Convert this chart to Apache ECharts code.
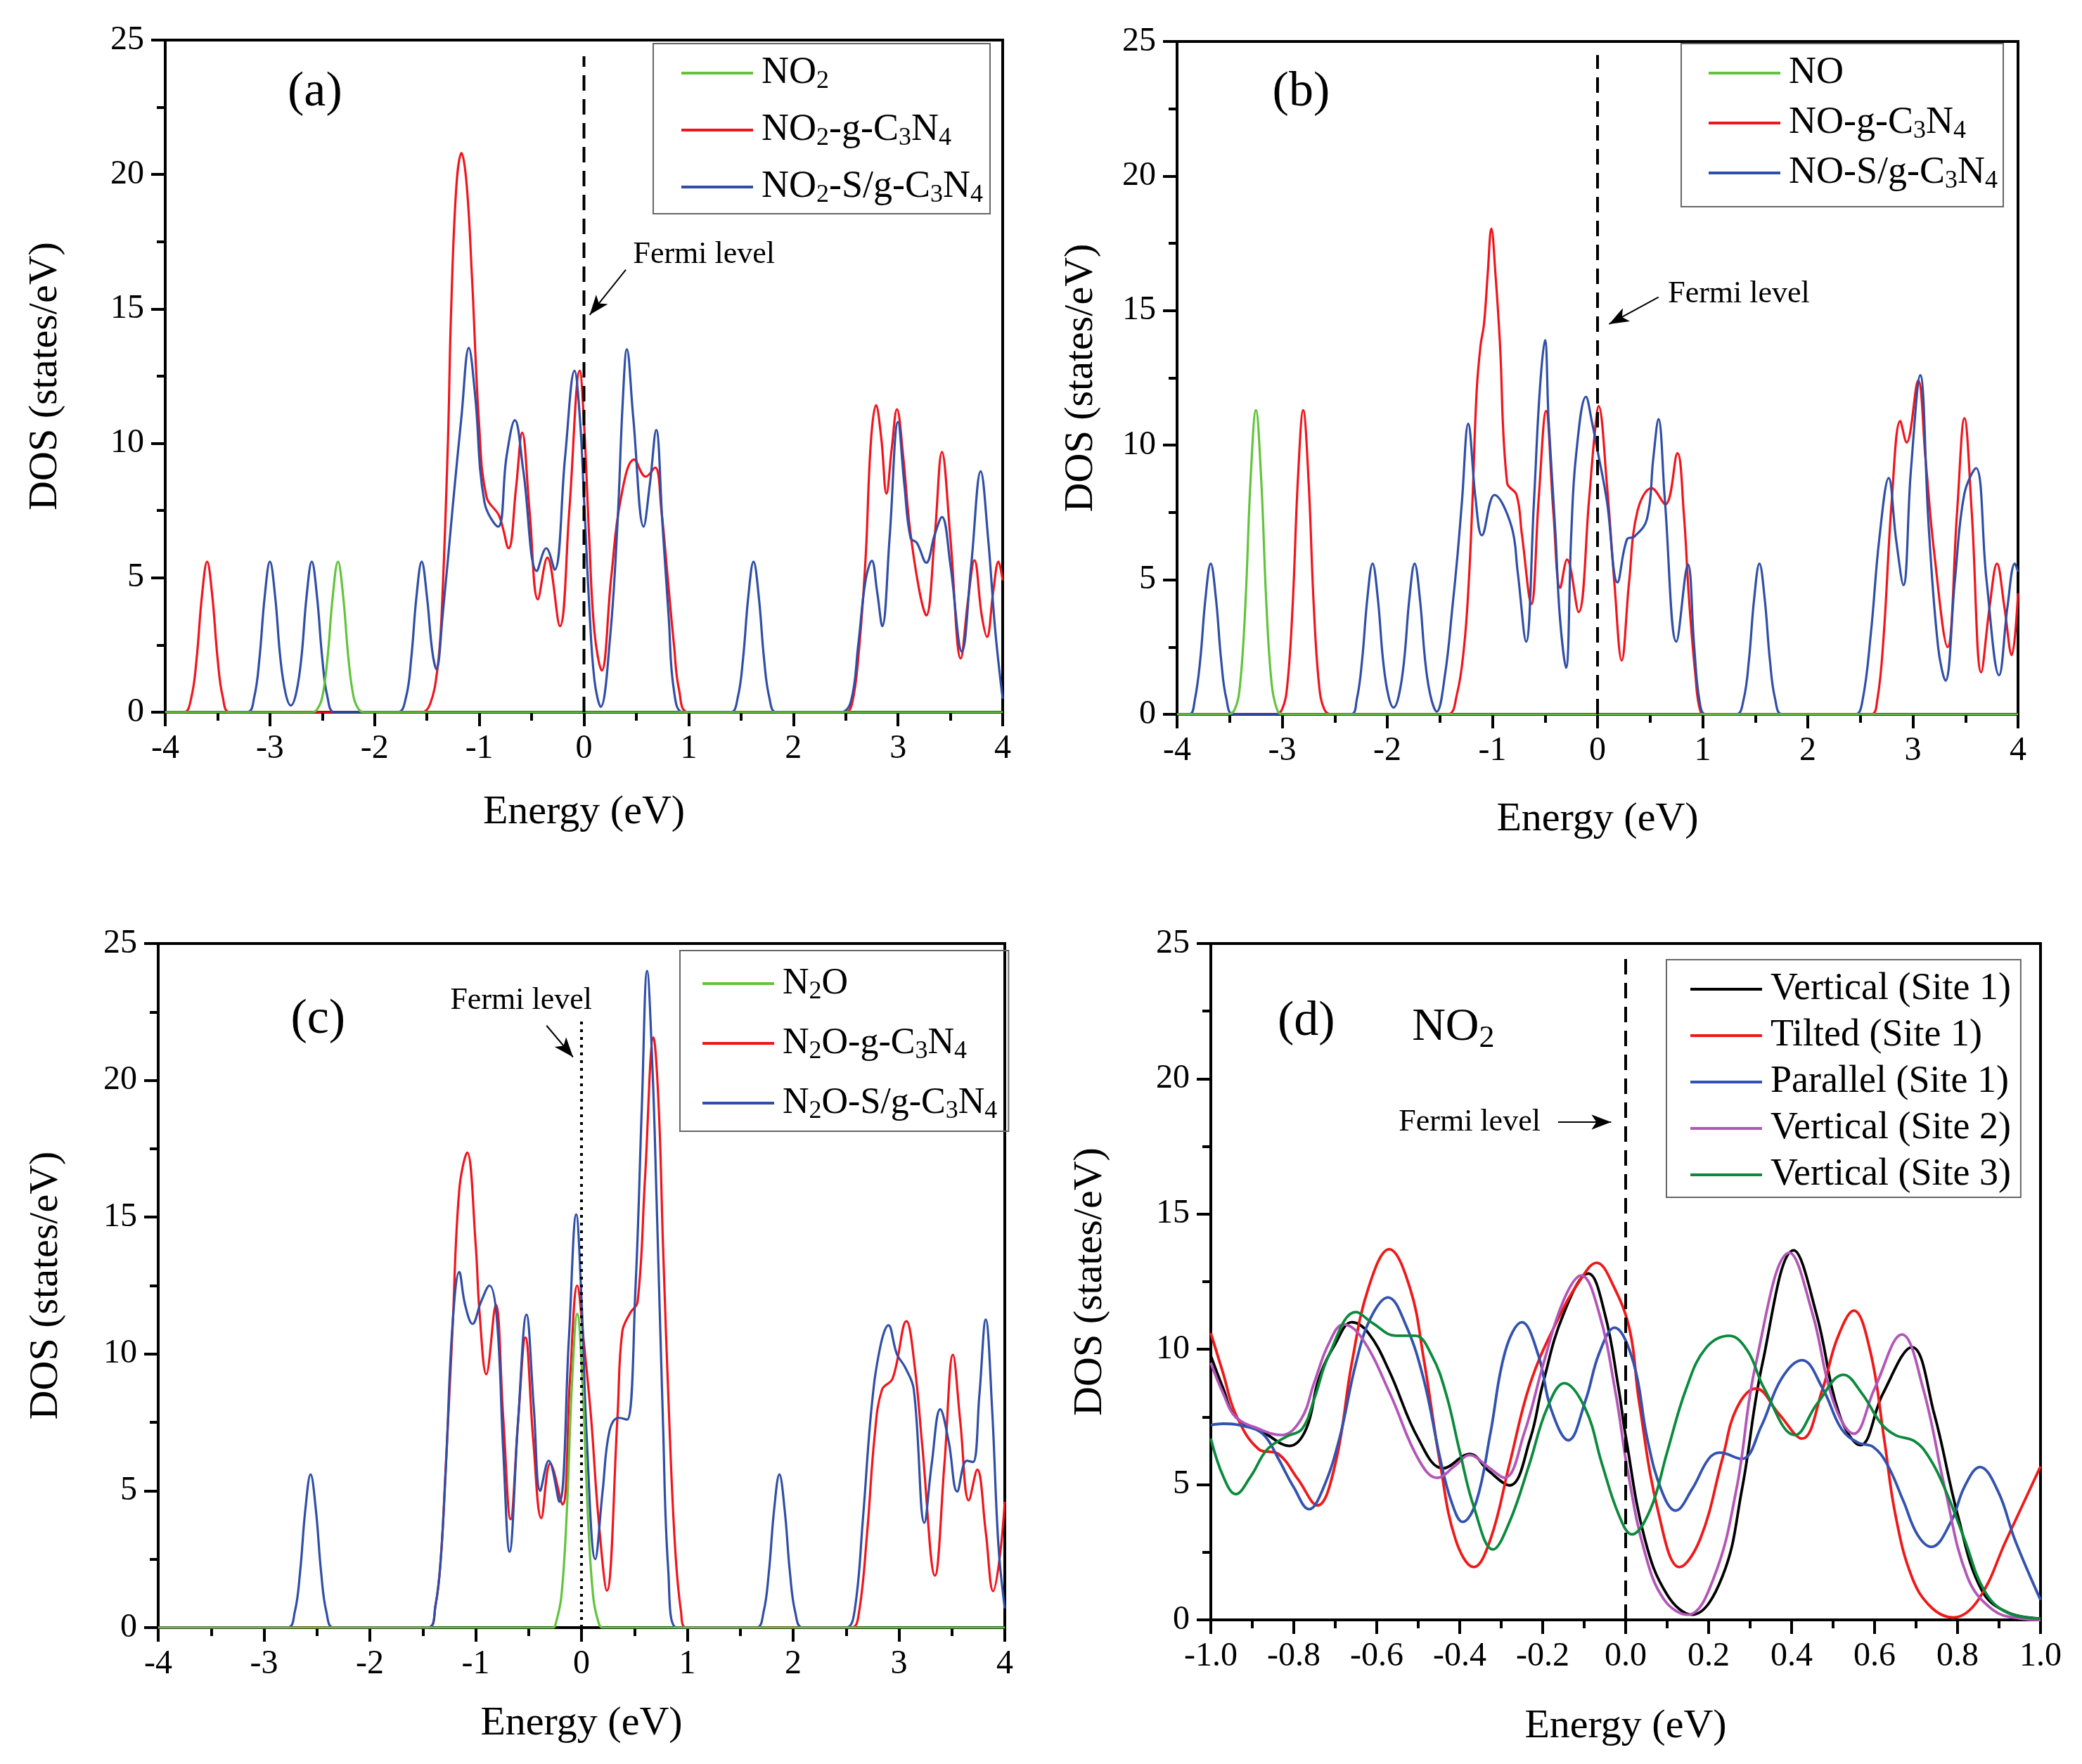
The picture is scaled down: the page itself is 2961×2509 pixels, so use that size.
<!DOCTYPE html>
<html>
<head>
<meta charset="utf-8">
<script src="https://cdn.jsdelivr.net/npm/echarts@6/dist/echarts.min.js"></script>
<style>
html, body { margin: 0; padding: 0; background: #fff; }
#chart { width: 2961px; height: 2509px; }
</style>
</head>
<body>
<div id="chart"></div>
<script>
// ---- data: [energy (eV), DOS (states/eV)] ----

// (a) NO2
var aNO2 = [[-4,0],[-2.6,0],[-2.55,0.1],[-2.5,0.56],[-2.45,2.0],[-2.4,4.3],[-2.35,5.6],[-2.3,4.3],[-2.25,2.0],[-2.2,0.56],[-2.15,0.1],[-2.1,0],[4,0]];
var aNO2gCN = [[-4,0],[-3.82,0],[-3.75,0.56],[-3.7,2.0],[-3.65,4.3],[-3.6,5.6],[-3.55,4.3],[-3.5,2.0],[-3.45,0.56],[-3.38,0],
  [-1.55,0],[-1.47,0.3],[-1.4,1.6],[-1.36,3.6],[-1.3,10.0],[-1.27,14.8],[-1.22,19.5],[-1.17,20.8],[-1.12,19.6],[-1.07,16.2],[-1.0,10.6],[-0.93,8.0],[-0.81,7.3],[-0.72,6.1],[-0.65,8.3],[-0.59,10.4],[-0.52,7.5],[-0.44,4.2],[-0.35,5.75],[-0.23,3.2],[-0.14,7.5],[-0.04,12.7],[0.0,10.8],[0.05,6.5],[0.1,3.0],[0.17,1.55],[0.26,5.0],[0.35,7.9],[0.48,9.4],[0.59,8.76],[0.68,9.1],[0.74,7.5],[0.8,5.0],[0.86,2.5],[0.91,0.8],[1.0,0],
  [2.5,0],[2.56,0.3],[2.62,2.0],[2.69,5.7],[2.74,10.0],[2.79,11.42],[2.84,10.2],[2.89,8.13],[2.94,9.8],[2.99,11.27],[3.05,9.5],[3.11,6.96],[3.2,4.6],[3.27,3.6],[3.35,6.5],[3.42,9.68],[3.5,6.5],[3.6,2.0],[3.67,4.2],[3.73,5.65],[3.8,3.6],[3.85,2.8],[3.91,4.5],[3.96,5.6],[4.0,4.9]];
var aNO2SgCN = [[-4,0],[-3.22,0],[-3.15,0.56],[-3.1,2.0],[-3.05,4.3],[-3.0,5.6],[-2.95,4.3],[-2.9,2.0],[-2.85,0.7],[-2.8,0.25],[-2.75,0.7],[-2.7,2.0],[-2.65,4.3],[-2.6,5.6],[-2.55,4.3],[-2.5,2.0],[-2.45,0.56],[-2.38,0],
  [-1.78,0],[-1.7,0.56],[-1.65,2.0],[-1.6,4.3],[-1.55,5.6],[-1.5,4.3],[-1.45,2.3],[-1.41,1.6],[-1.35,3.6],[-1.25,7.8],[-1.17,11.0],[-1.1,13.55],[-1.04,11.8],[-0.95,7.8],[-0.82,6.9],[-0.74,9.5],[-0.66,10.86],[-0.58,9.0],[-0.45,5.25],[-0.36,6.1],[-0.28,5.3],[-0.18,9.5],[-0.09,12.7],[-0.04,11.0],[0.0,8.0],[0.05,4.0],[0.1,1.2],[0.16,0.2],[0.25,2.8],[0.32,7.0],[0.37,11.5],[0.41,13.5],[0.47,11.0],[0.57,6.9],[0.63,8.5],[0.69,10.5],[0.75,7.0],[0.81,3.5],[0.86,0.8],[0.95,0],
  [1.4,0],[1.47,0.56],[1.52,2.0],[1.57,4.3],[1.62,5.6],[1.67,4.3],[1.72,2.0],[1.77,0.56],[1.84,0],
  [2.45,0],[2.55,0.4],[2.62,2.5],[2.69,4.9],[2.75,5.63],[2.8,4.5],[2.85,3.2],[2.92,6.5],[3.0,10.8],[3.06,8.5],[3.12,6.48],[3.18,6.3],[3.27,5.56],[3.35,6.6],[3.42,7.26],[3.5,5.5],[3.61,2.25],[3.7,5.5],[3.79,8.96],[3.86,6.5],[3.93,3.0],[4.0,0.5]];

// (b) NO
var bNO = [[-4,0],[-3.52,0],[-3.45,0.19],[-3.4,1.13],[-3.35,4.07],[-3.3,8.76],[-3.25,11.3],[-3.2,8.76],[-3.15,4.07],[-3.1,1.13],[-3.05,0.19],[-3.0,0],[4,0]];
var bNOgCN = [[-4,0],[-3.07,0],[-3.0,0.19],[-2.95,1.13],[-2.9,4.07],[-2.85,8.76],[-2.8,11.3],[-2.75,8.76],[-2.7,4.07],[-2.65,1.13],[-2.6,0.19],[-2.53,0],
  [-1.43,0],[-1.34,0.7],[-1.27,2.5],[-1.225,4.9],[-1.19,7.9],[-1.15,12.0],[-1.113,13.7],[-1.08,14.5],[-1.046,16.3],[-1.01,18.05],[-0.97,16.3],[-0.93,13.9],[-0.86,8.6],[-0.77,8.15],[-0.72,6.7],[-0.63,4.1],[-0.56,8.0],[-0.49,11.27],[-0.42,7.5],[-0.355,4.7],[-0.29,5.75],[-0.18,3.8],[-0.08,8.0],[-0.03,10.3],[0.01,11.45],[0.09,8.5],[0.16,4.9],[0.23,2.0],[0.3,4.9],[0.38,7.55],[0.515,8.4],[0.645,7.8],[0.76,9.7],[0.82,7.5],[0.87,4.3],[0.93,1.5],[0.98,0.1],[1.05,0],
  [2.6,0],[2.66,0.5],[2.72,2.8],[2.8,8.0],[2.88,10.9],[2.94,10.1],[3.05,12.4],[3.12,9.5],[3.2,6.1],[3.33,2.5],[3.42,7.5],[3.49,11.0],[3.56,7.5],[3.65,1.56],[3.73,4.0],[3.8,5.6],[3.87,4.0],[3.94,2.2],[4.0,4.5]];
var bNOSgCN = [[-4,0],[-3.88,0],[-3.83,0.56],[-3.78,2.0],[-3.73,4.3],[-3.68,5.6],[-3.63,4.3],[-3.58,2.0],[-3.53,0.56],[-3.46,0],
  [-2.35,0],[-2.29,0.56],[-2.24,2.0],[-2.19,4.3],[-2.14,5.6],[-2.09,4.3],[-2.04,2.0],[-1.99,0.7],[-1.94,0.25],[-1.89,0.7],[-1.84,2.0],[-1.79,4.3],[-1.74,5.6],[-1.69,4.3],[-1.64,2.0],[-1.59,0.7],[-1.53,0.1],
  [-1.45,1.5],[-1.38,4.0],[-1.33,6.0],[-1.29,7.9],[-1.23,10.8],[-1.16,8.0],[-1.1,6.65],[-0.98,8.15],[-0.82,7.0],[-0.76,5.3],[-0.68,2.7],[-0.605,7.9],[-0.55,12.0],[-0.5,13.9],[-0.465,10.9],[-0.4,6.7],[-0.36,3.7],[-0.3,1.73],[-0.25,6.7],[-0.205,9.6],[-0.11,11.8],[-0.05,10.8],[0.0,9.8],[0.09,7.9],[0.19,4.9],[0.28,6.5],[0.35,6.6],[0.47,7.25],[0.53,9.5],[0.58,10.97],[0.64,8.0],[0.75,2.7],[0.86,5.57],[0.92,2.5],[0.97,0.5],[1.03,0],
  [1.32,0],[1.39,0.56],[1.44,2.0],[1.49,4.3],[1.54,5.6],[1.59,4.3],[1.64,2.0],[1.69,0.56],[1.76,0],
  [2.45,0],[2.52,0.5],[2.6,3.0],[2.68,6.5],[2.77,8.78],[2.84,6.5],[2.91,4.8],[2.98,9.0],[3.07,12.6],[3.15,7.0],[3.24,2.5],[3.31,1.25],[3.4,5.0],[3.49,8.2],[3.6,9.15],[3.7,5.0],[3.82,1.45],[3.9,4.0],[3.97,5.6],[4.0,5.3]];

// (c) N2O
var cN2O = [[-4,0],[-0.27,0],[-0.24,0.2],[-0.19,1.15],[-0.14,4.13],[-0.09,8.9],[-0.04,11.47],[0.01,8.9],[0.06,4.13],[0.11,1.15],[0.16,0.2],[0.2,0],[4,0]];
var cN2OgCN = [[-4,0],[-1.45,0],[-1.38,0.8],[-1.33,2.5],[-1.29,5.3],[-1.22,10.8],[-1.155,16.0],[-1.08,17.36],[-1.0,14.0],[-0.965,11.6],[-0.9,9.26],[-0.81,11.8],[-0.74,7.7],[-0.67,3.96],[-0.6,7.5],[-0.53,10.6],[-0.457,6.9],[-0.38,4.0],[-0.295,6.0],[-0.18,4.5],[-0.11,9.0],[-0.04,12.5],[0.02,10.5],[0.09,7.7],[0.16,4.0],[0.24,1.35],[0.34,7.7],[0.385,10.8],[0.46,11.5],[0.53,11.9],[0.6,16.4],[0.68,21.57],[0.73,19.0],[0.77,14.0],[0.83,7.5],[0.885,2.9],[0.94,0.6],[0.99,0],
  [2.55,0],[2.62,0.5],[2.7,3.5],[2.77,7.0],[2.84,8.7],[2.94,9.1],[3.07,11.2],[3.15,9.5],[3.22,6.65],[3.34,1.9],[3.43,6.0],[3.51,9.97],[3.58,7.5],[3.66,4.65],[3.74,5.77],[3.82,3.5],[3.89,1.33],[3.95,2.5],[4.0,4.6]];
var cN2OSgCN = [[-4,0],[-2.78,0],[-2.71,0.56],[-2.66,2.0],[-2.61,4.3],[-2.56,5.6],[-2.51,4.3],[-2.46,2.0],[-2.41,0.56],[-2.34,0],
  [-1.45,0],[-1.38,0.8],[-1.33,2.5],[-1.28,6.0],[-1.22,11.0],[-1.155,13.0],[-1.1,11.8],[-1.03,11.1],[-0.95,11.9],[-0.87,12.5],[-0.8,11.3],[-0.74,6.5],[-0.68,2.77],[-0.6,7.5],[-0.52,11.44],[-0.45,8.0],[-0.39,5.0],[-0.31,6.1],[-0.21,4.6],[-0.12,10.5],[-0.05,15.1],[0.0,12.0],[0.05,6.9],[0.13,2.5],[0.2,5.0],[0.265,7.2],[0.35,7.67],[0.43,7.6],[0.51,12.4],[0.57,19.0],[0.62,24.0],[0.67,20.5],[0.71,15.6],[0.77,7.5],[0.82,2.1],[0.9,0],
  [1.65,0],[1.72,0.56],[1.77,2.0],[1.82,4.3],[1.87,5.6],[1.92,4.3],[1.97,2.0],[2.02,0.56],[2.09,0],
  [2.5,0],[2.58,0.6],[2.66,4.0],[2.74,8.0],[2.82,10.2],[2.9,11.05],[2.98,10.0],[3.06,9.5],[3.14,8.7],[3.24,3.83],[3.31,6.0],[3.39,7.98],[3.47,6.8],[3.55,4.97],[3.64,6.1],[3.7,6.05],[3.76,8.5],[3.82,11.26],[3.88,8.0],[3.94,3.0],[4.0,0.7]];

// (d) NO2 on different sites
var dVert1 = [[-1.0,9.76],[-0.97,8.55],[-0.94,7.5],[-0.87,6.9],[-0.81,6.43],[-0.77,7.06],[-0.74,8.9],[-0.7,10.2],[-0.66,11.0],[-0.62,10.6],[-0.57,9.2],[-0.5,6.7],[-0.44,5.6],[-0.376,6.13],[-0.33,5.5],[-0.28,4.97],[-0.23,6.7],[-0.2,8.7],[-0.15,11.3],[-0.09,12.8],[-0.05,11.3],[-0.017,8.55],[0.0,6.8],[0.046,3.0],[0.1,0.93],[0.16,0.19],[0.233,1.6],[0.28,4.8],[0.33,9.5],[0.405,13.66],[0.46,11.3],[0.515,7.6],[0.566,6.46],[0.62,8.36],[0.69,10.08],[0.744,7.6],[0.8,3.9],[0.858,1.1],[0.92,0.28],[1.0,0.05]];
var dTilt1 = [[-1.0,10.6],[-0.97,9.1],[-0.94,7.6],[-0.884,6.3],[-0.837,6.13],[-0.79,5.2],[-0.743,4.23],[-0.7,5.76],[-0.66,9.5],[-0.62,12.27],[-0.57,13.7],[-0.52,12.27],[-0.487,9.67],[-0.447,5.76],[-0.41,2.97],[-0.366,1.95],[-0.326,2.97],[-0.28,5.76],[-0.23,8.74],[-0.165,11.06],[-0.11,12.55],[-0.07,13.2],[-0.03,12.36],[0.01,10.7],[0.032,8.1],[0.08,3.9],[0.13,1.95],[0.18,3.0],[0.234,6.0],[0.267,7.8],[0.314,8.55],[0.37,7.6],[0.425,6.7],[0.475,8.55],[0.51,10.4],[0.55,11.43],[0.59,9.9],[0.623,6.7],[0.65,3.9],[0.69,1.58],[0.737,0.46],[0.79,0.09],[0.85,0.74],[0.918,2.97],[1.0,5.67]];
var dPar1 = [[-1.0,7.2],[-0.97,7.25],[-0.904,7.1],[-0.87,6.8],[-0.837,5.95],[-0.8,4.9],[-0.763,4.09],[-0.73,4.83],[-0.69,6.7],[-0.65,9.5],[-0.615,11.15],[-0.573,11.92],[-0.53,10.9],[-0.487,8.9],[-0.447,5.95],[-0.42,4.37],[-0.393,3.62],[-0.36,4.37],[-0.326,6.9],[-0.29,9.94],[-0.25,11.0],[-0.21,9.76],[-0.18,7.8],[-0.138,6.64],[-0.097,8.1],[-0.064,9.85],[-0.027,10.8],[0.019,9.5],[0.052,6.7],[0.086,4.8],[0.12,4.04],[0.16,4.83],[0.2,5.95],[0.227,6.18],[0.28,5.95],[0.327,7.16],[0.375,8.9],[0.425,9.6],[0.475,8.55],[0.52,7.06],[0.56,6.55],[0.596,6.4],[0.63,5.76],[0.67,4.37],[0.703,3.16],[0.737,2.7],[0.784,3.62],[0.817,4.93],[0.854,5.65],[0.898,4.74],[0.938,2.97],[1.0,0.74]];
var dVert2 = [[-1.0,9.5],[-0.97,8.36],[-0.94,7.5],[-0.884,7.06],[-0.83,6.83],[-0.783,7.4],[-0.75,8.8],[-0.716,10.2],[-0.68,10.92],[-0.635,10.4],[-0.568,8.36],[-0.5,5.95],[-0.454,5.25],[-0.413,5.67],[-0.376,6.09],[-0.333,5.67],[-0.292,5.25],[-0.245,6.88],[-0.198,9.48],[-0.15,11.8],[-0.107,12.73],[-0.064,11.34],[-0.024,8.36],[0.005,5.5],[0.046,2.5],[0.093,0.74],[0.15,0.19],[0.213,1.58],[0.267,4.83],[0.314,9.48],[0.395,13.57],[0.45,11.34],[0.5,8.1],[0.55,6.88],[0.6,8.55],[0.666,10.55],[0.717,8.55],[0.77,4.83],[0.824,1.58],[0.885,0.37],[0.95,0.05],[1.0,0.0]];
var dVert3 = [[-1.0,6.7],[-0.97,5.3],[-0.94,4.65],[-0.904,5.3],[-0.864,6.3],[-0.817,6.78],[-0.78,7.06],[-0.75,8.2],[-0.716,9.76],[-0.65,11.38],[-0.61,10.97],[-0.554,10.5],[-0.507,10.5],[-0.467,9.76],[-0.433,8.36],[-0.4,6.23],[-0.366,4.18],[-0.32,2.6],[-0.28,3.62],[-0.232,5.76],[-0.19,7.8],[-0.148,8.75],[-0.097,7.8],[-0.057,5.76],[-0.017,3.9],[0.015,3.16],[0.06,4.1],[0.1,6.2],[0.146,8.55],[0.193,10.04],[0.25,10.5],[0.294,9.94],[0.334,8.55],[0.408,6.83],[0.462,8.0],[0.525,9.06],[0.57,8.36],[0.616,7.25],[0.65,6.83],[0.697,6.6],[0.73,6.04],[0.77,4.83],[0.817,2.97],[0.864,1.1],[0.918,0.28],[1.0,0.05]];

// Fermi level markers: top of the vertical line, text pos, arrow start/end
var fermiTop = [24.4, 24.5, 22.3, 24.5];
var fermiText = [[0.47, 17.0], [0.67, 15.6], [-1.24, 22.9], [-0.547, 18.4]];
var fermiArrow = [
  [[0.40, 16.46], [0.055, 14.78]],
  [[0.58, 15.5], [0.11, 14.5]],
  [[-0.33, 22.0], [-0.08, 20.85]],
  [[-0.163, 18.4], [-0.035, 18.4]]
];
var panelLabels = ['(a)', '(b)', '(c)', '(d)'];
var panelLabelPos = [[-2.57, 23.05], [-2.82, 23.1], [-2.49, 22.2], [-0.77, 22.1]];

var FONT = '"Liberation Serif", "Times New Roman", serif';
var GREEN = '#62c43c', RED = '#f2141c', BLUE = '#2f4ea6';

var grids = [
  { left: 235, top: 57, width: 1191, height: 956 },
  { left: 1674, top: 59, width: 1196, height: 957 },
  { left: 225, top: 1342, width: 1204, height: 973 },
  { left: 1722, top: 1342, width: 1180, height: 962 }
];
var xNameGap = [114, 121, 108, 123];
var yNameGap = [141, 107, 130, 142];

function subFmt(name) {
  return name.replace(/([A-Z])(\d)/g, '$1{s|$2}');
}

function xAxisFor(i) {
  var d = i === 3;
  return {
    type: 'value', gridIndex: i,
    min: d ? -1 : -4, max: d ? 1 : 4, interval: d ? 0.2 : 1,
    name: 'Energy (eV)', nameLocation: 'middle', nameGap: xNameGap[i],
    nameTextStyle: { fontFamily: FONT, fontSize: 58, color: '#000' },
    axisLine: { onZero: false, lineStyle: { color: '#000', width: 4 } },
    axisTick: { length: 20, lineStyle: { color: '#000', width: 4 } },
    minorTick: { show: true, splitNumber: 2, length: 12, lineStyle: { color: '#000', width: 4 } },
    splitLine: { show: false },
    axisLabel: {
      fontFamily: FONT, fontSize: 48, color: '#000', margin: 28,
      formatter: function (v) { return d ? v.toFixed(1) : String(Math.round(v)); }
    }
  };
}

function yAxisFor(i) {
  return {
    type: 'value', gridIndex: i, min: 0, max: 25, interval: 5,
    name: 'DOS (states/eV)', nameLocation: 'middle', nameGap: yNameGap[i],
    nameTextStyle: { fontFamily: FONT, fontSize: 58, color: '#000' },
    axisLine: { show: true, onZero: false, lineStyle: { color: '#000', width: 4 } },
    axisTick: { show: true, length: 20, lineStyle: { color: '#000', width: 4 } },
    minorTick: { show: true, splitNumber: 2, length: 12, lineStyle: { color: '#000', width: 4 } },
    splitLine: { show: false },
    axisLabel: { fontFamily: FONT, fontSize: 48, color: '#000', margin: 30 }
  };
}

function curve(name, i, data, color, width) {
  return {
    name: name, type: 'line', xAxisIndex: i, yAxisIndex: i, data: data,
    smooth: 0.4, symbol: 'none', silent: true,
    lineStyle: { color: color, width: width }, itemStyle: { color: color }
  };
}

function fermi(i) {
  return {
    type: 'line', xAxisIndex: i, yAxisIndex: i, data: [[0, 0], [0, fermiTop[i]]],
    symbol: 'none', silent: true, z: 4,
    lineStyle: { color: '#000', width: 4, type: i === 2 ? [4, 7] : [22, 12] },
    markLine: {
      silent: true, symbol: ['none', 'arrow'], symbolSize: [16, 28],
      lineStyle: { color: '#000', width: 2, type: 'solid' },
      label: { show: false }, animation: false,
      data: [[{ coord: fermiArrow[i][0] }, { coord: fermiArrow[i][1] }]]
    }
  };
}

function legendFor(names, left, top, gap, lineH, pad, fs) {
  return {
    data: names, orient: 'vertical', left: left, top: top,
    icon: 'rect', itemWidth: 102, itemHeight: 4, itemGap: gap, padding: pad,
    borderColor: '#666', borderWidth: 2, selectedMode: false,
    formatter: subFmt,
    textStyle: {
      fontFamily: FONT, fontSize: fs, color: '#000', lineHeight: lineH, padding: [0, 0, 0, 7],
      rich: { s: { fontFamily: FONT, fontSize: 36, color: '#000', lineHeight: 12, verticalAlign: 'bottom' } }
    }
  };
}

var series = [
  curve('NO2-g-C3N4', 0, aNO2gCN, RED, 3.2),
  curve('NO2-S/g-C3N4', 0, aNO2SgCN, BLUE, 3.2),
  curve('NO2', 0, aNO2, GREEN, 3.2),
  fermi(0),
  curve('NO-g-C3N4', 1, bNOgCN, RED, 3.2),
  curve('NO-S/g-C3N4', 1, bNOSgCN, BLUE, 3.2),
  curve('NO', 1, bNO, GREEN, 3.2),
  fermi(1),
  curve('N2O-g-C3N4', 2, cN2OgCN, RED, 3.2),
  curve('N2O-S/g-C3N4', 2, cN2OSgCN, BLUE, 3.2),
  curve('N2O', 2, cN2O, GREEN, 3.2),
  fermi(2),
  curve('Vertical (Site 1)', 3, dVert1, '#000000', 3.8),
  curve('Tilted (Site 1)', 3, dTilt1, '#f01818', 3.8),
  curve('Parallel (Site 1)', 3, dPar1, '#3352b0', 3.8),
  curve('Vertical (Site 2)', 3, dVert2, '#b455b8', 3.8),
  curve('Vertical (Site 3)', 3, dVert3, '#0b8a3c', 3.8),
  fermi(3)
];

var option = {
  backgroundColor: '#fff',
  animation: false,
  grid: grids.map(function (g) {
    return { left: g.left, top: g.top, width: g.width, height: g.height, show: true, borderColor: '#000', borderWidth: 4 };
  }),
  xAxis: [0, 1, 2, 3].map(xAxisFor),
  yAxis: [0, 1, 2, 3].map(yAxisFor),
  legend: [
    legendFor(['NO2', 'NO2-g-C3N4', 'NO2-S/g-C3N4'], 929, 62, 21, 60, [12, 10, 8, 40], 54),
    legendFor(['NO', 'NO-g-C3N4', 'NO-S/g-C3N4'], 2391, 62, 11, 60, [12, 8, 18, 39], 54),
    legendFor(['N2O', 'N2O-g-C3N4', 'N2O-S/g-C3N4'], 967, 1352, 25, 60, [17, 16, 10, 32], 52),
    legendFor(['Vertical (Site 1)', 'Tilted (Site 1)', 'Parallel (Site 1)', 'Vertical (Site 2)', 'Vertical (Site 3)'], 2370, 1365, 10, 56, [14, 14, 4, 34], 54)
  ],
  series: series
};

var chart = echarts.init(document.getElementById('chart'), null, { renderer: 'canvas' });
chart.setOption(option);

// annotations placed in data coordinates
var graphics = [];
for (var i = 0; i < 4; i++) {
  var lp = chart.convertToPixel({ gridIndex: i }, panelLabelPos[i]);
  graphics.push({ type: 'text', x: lp[0], y: lp[1], silent: true,
    style: { text: panelLabels[i], fontFamily: FONT, fontSize: 70, fill: '#000', align: 'center', verticalAlign: 'middle' } });
  var tp = chart.convertToPixel({ gridIndex: i }, fermiText[i]);
  graphics.push({ type: 'text', x: tp[0], y: tp[1], silent: true,
    style: { text: 'Fermi level', fontFamily: FONT, fontSize: 44, fill: '#000', align: 'left', verticalAlign: 'middle' } });
}
var np = chart.convertToPixel({ gridIndex: 3 }, [-0.515, 21.9]);
graphics.push({ type: 'text', x: np[0], y: np[1], silent: true,
  style: { text: 'NO{s|2}', fontFamily: FONT, fontSize: 66, fill: '#000', align: 'left', verticalAlign: 'middle',
    lineHeight: 76, rich: { s: { fontFamily: FONT, fontSize: 44, fill: '#000', lineHeight: 16, verticalAlign: 'bottom' } } } });
chart.setOption({ graphic: graphics });
</script>
</body>
</html>
